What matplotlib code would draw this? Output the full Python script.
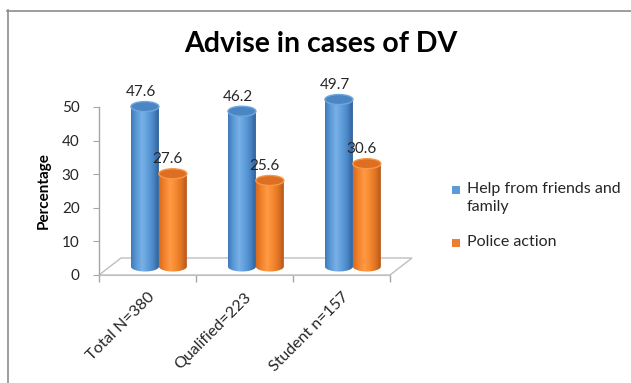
import numpy as np
import matplotlib
matplotlib.use("Agg")
import matplotlib.pyplot as plt
from matplotlib.patches import Polygon, Ellipse, Rectangle
from matplotlib.colors import LinearSegmentedColormap
from matplotlib.lines import Line2D

# ---- data ----
categories = ["Total N=380", "Qualified=223", "Student n=157"]
series_names = ["Help from friends and\nfamily", "Police action"]
help_vals = [47.6, 46.2, 49.7]
police_vals = [27.6, 25.6, 30.6]
yticks = [0, 10, 20, 30, 40, 50]

FONT = ["Lato", "DejaVu Sans"]
plt.rcParams['font.family'] = FONT

W, H = 631, 383
fig = plt.figure(figsize=(W / 100, H / 100), dpi=100)

def fx(px):
    return px / W

def fy(py):
    return 1 - py / H

# axes: x -0.5..2.5 -> 99..390 px ; y 0..50 -> 275..107 px
ax_l, ax_r, ax_t, ax_b = 99, 390, 107, 275
ax = fig.add_axes([fx(ax_l), fy(ax_b), (ax_r - ax_l) / W, (ax_b - ax_t) / H])
ax.set_facecolor("none")

px_x = (ax_r - ax_l) / 3.0        # px per x unit
px_y = (ax_b - ax_t) / 50.0       # px per y unit

depth_dx = 22 / px_x
depth_dy = 17 / px_y

# floor
floor = Polygon([(-0.5, 0), (2.5, 0), (2.5 + depth_dx, depth_dy), (-0.5 + depth_dx, depth_dy)],
                closed=True, facecolor="white", edgecolor="#BFBFBF", lw=1.0,
                clip_on=False, zorder=1)
ax.add_patch(floor)

blue_cmap = LinearSegmentedColormap.from_list(
    "b", ["#3F78B8", "#5B9BD8", "#79B0E6", "#5F9EDB", "#4A86C6", "#2F5F96"])
orange_cmap = LinearSegmentedColormap.from_list(
    "o", ["#D86A1E", "#F3832C", "#FF9A45", "#F58A30", "#E07424", "#B4561A"])

bar_w = 28 / px_x
ell_h = 10 / px_y
base_x = depth_dx / 2
base_y = depth_dy / 2
offsets = [-0.14, 0.148]
grad = np.linspace(0, 1, 256).reshape(1, -1)


def cylinder(xc, h, cmap, topcolor, rim):
    x0, x1 = xc - bar_w / 2, xc + bar_w / 2
    yb = base_y
    yt = yb + h
    th = np.linspace(np.pi, 2 * np.pi, 60)
    bx = xc + bar_w / 2 * np.cos(th)
    by = yb + ell_h / 2 * np.sin(th)
    verts = list(zip(bx, by)) + [(x1, yt), (x0, yt)]
    poly = Polygon(verts, closed=True, transform=ax.transData, facecolor="none",
                   edgecolor="none")
    im = ax.imshow(grad, extent=[x0, x1, yb - ell_h / 2, yt], aspect="auto",
                   cmap=cmap, zorder=3, interpolation="bilinear")
    im.set_clip_box(fig.bbox)
    im.set_clip_path(poly)
    top = Ellipse((xc, yt), bar_w, ell_h, facecolor=topcolor, edgecolor=rim,
                  lw=1.0, zorder=4, clip_on=False)
    ax.add_patch(top)
    return yt


for i in range(len(categories)):
    xb = i + base_x + offsets[0]
    yt = cylinder(xb, help_vals[i], blue_cmap, "#4A86C4", "#6FA6DD")
    ax.text(xb - 4 / px_x, yt + 14.5 / px_y, f"{help_vals[i]:.1f}", ha="center",
            va="center", fontsize=11, color="#262626", zorder=6)
    xo = i + base_x + offsets[1]
    yt = cylinder(xo, police_vals[i], orange_cmap, "#DE6E22", "#F59848")
    ax.text(xo - 5 / px_x, yt + 14.5 / px_y, f"{police_vals[i]:.1f}", ha="center",
            va="center", fontsize=11, color="#262626", zorder=6)

ax.set_xlim(-0.5, 2.5)
ax.set_ylim(0, 50)

for s in ["top", "right"]:
    ax.spines[s].set_visible(False)
ax.spines["left"].set_color("#A6A6A6")
ax.spines["left"].set_linewidth(1.0)
ax.spines["bottom"].set_color("#BFBFBF")

ax.set_yticks(yticks)
ax.set_yticklabels([str(t) for t in yticks], fontsize=11, color="#262626")
ax.tick_params(axis="y", length=4, color="#A6A6A6", pad=10)

ax.set_xticks(range(len(categories)))
ax.set_xticklabels(categories, rotation=45, ha="right", va="top",
                   rotation_mode="anchor", fontsize=11.5, color="#262626")
ax.tick_params(axis="x", length=0, pad=11)
ax.set_xticks([-0.5, 0.5, 1.5, 2.5], minor=True)
ax.tick_params(axis="x", which="minor", length=5, color="#A6A6A6", width=1.0)

ax.set_ylabel("Percentage", fontsize=11, fontweight="bold", color="black", labelpad=8)

fig.text(fx(321), fy(44), "Advise in cases of DV", ha="center", va="center",
         fontsize=20.5, fontweight="bold", color="black")

# legend
leg_colors = ["#5B9BD5", "#ED7D31"]
leg_y = [190, 243]
for c, y, name in zip(leg_colors, leg_y, series_names):
    fig.patches.append(Rectangle((fx(452), fy(y + 4)), 8 / W, 8 / H, facecolor=c,
                                 edgecolor="none", transform=fig.transFigure, figure=fig))
    fig.text(fx(467), fy(y - 8), name, ha="left", va="top", fontsize=11.5,
             color="#262626", linespacing=1.35)

# chart border
fig.add_artist(Line2D([fx(7.5), fx(7.5)], [fy(10), fy(H + 5)], color="#8C8C8C",
                      lw=1.2, transform=fig.transFigure))
fig.add_artist(Line2D([fx(7), fx(W + 5)], [fy(10.5), fy(10.5)], color="#8C8C8C",
                      lw=1.2, transform=fig.transFigure))

fig.savefig("out.png", dpi=100)
